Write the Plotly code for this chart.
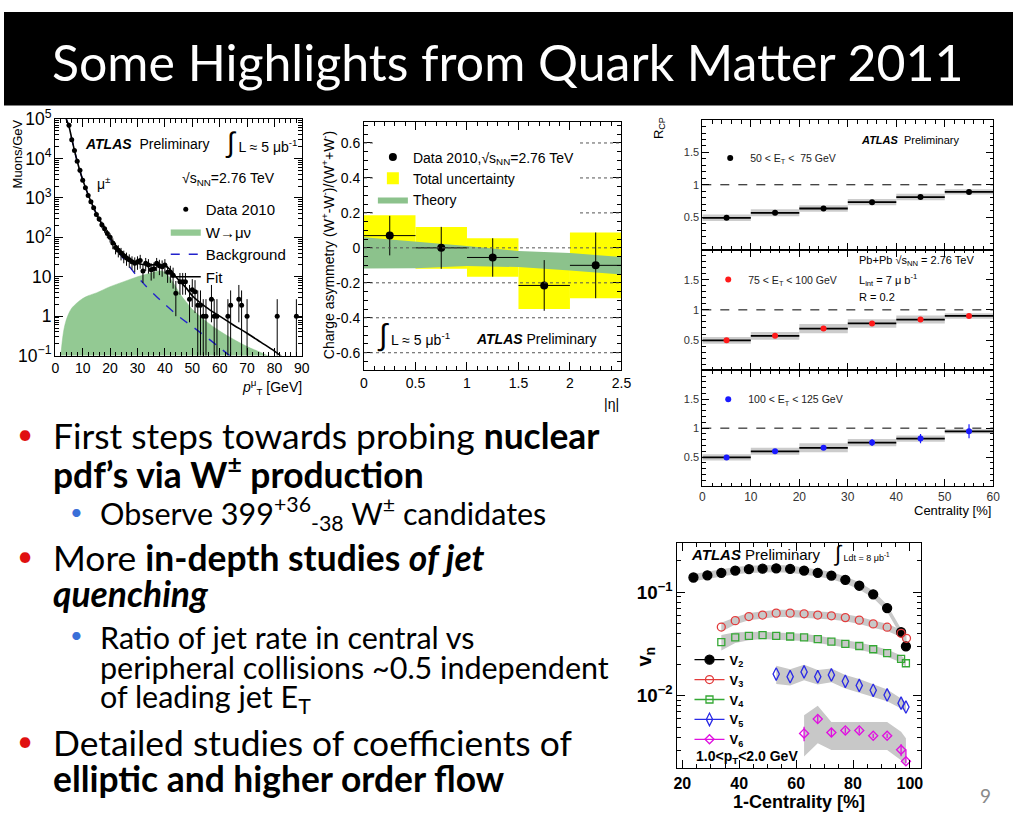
import plotly.graph_objects as go

W_PX, H_PX = 1023, 828


def X(px):
    return px / W_PX


def Y(py):
    return 1 - py / H_PX


ROOT = "Liberation Sans"
SLIDE = "Lato"

# ---------------- Panel A: muon pT spectrum ----------------
mu_pt = [5, 6, 7, 8, 9, 10, 11, 12, 13, 14, 15, 16, 17, 18, 19, 20, 21, 22, 23, 24, 25, 26, 27, 28, 29, 30,
         31, 32, 33, 34, 35, 36, 37, 38, 39, 40, 41, 42, 43,
         44, 45.5, 46.5, 47.5, 49, 50, 51, 52, 53, 54, 55, 57, 58, 59, 63, 64, 67, 68, 70, 81, 88]
mu_val = [70000, 30000, 16000, 8500, 5000, 2800, 1800, 1150, 800, 560, 380, 290, 210, 165, 125, 100, 72, 55, 47,
          40, 34, 30, 27, 24, 22, 24,
          26, 14, 22, 20, 15, 16, 22, 19, 18, 20, 13, 13, 11,
          3.8, 7.5, 7.5, 7.5, 2.7, 4.7, 4.2, 1.9, 1.9, 1, 1, 2.7, 1, 1, 1, 1.9, 2.7, 1.9, 1, 1, 1]
mu_err_common = [2000, 1000, 600, 400, 280, 200, 150, 110, 90, 70, 55, 45, 40, 35, 30, 26, 22, 18, 16, 14, 12,
                 11, 10, 9, 9, 9,
                 10, 7, 8, 8, 7, 7, 8, 8, 8, 8, 6, 6, 6]
mu_err_hi_tail = [4, 5, 5, 5, 3.5, 4, 4, 2.6, 2.6, 1.7, 1.7, 3.5, 1.7, 1.7, 1.7, 2.6, 3.5, 2.6, 1.7, 1.7, 1.7]
mu_err_lo_tail = [2.8, 4, 4, 4, 2.0, 3, 3, 1.85, 1.85, 0.95, 0.95, 2.0, 0.95, 0.95, 0.95, 1.85, 2.0, 1.85,
                  0.95, 0.95, 0.95]
mu_err_hi = mu_err_common + mu_err_hi_tail
mu_err_lo = mu_err_common + mu_err_lo_tail

fit_pt = [4, 5, 6, 7, 8, 9, 10, 12, 14, 16, 18, 20, 22, 25, 28, 30, 32, 35, 38, 40, 42, 44, 46, 48, 50, 55, 60,
          65, 70, 75, 80, 83]
fit_val = [1e5, 6.5e4, 3.2e4, 1.6e4, 8.5e3, 4.8e3, 2.9e3, 1.2e3, 560, 290, 165, 98, 63, 38, 26, 22, 20.5, 20, 20,
           19, 15, 10, 7, 5, 3.3, 1.7, 1.0, 0.6, 0.37, 0.22, 0.13, 0.09]

bkg_pt = [4, 5, 6, 7, 8, 9, 10, 12, 14, 16, 18, 20, 22, 25, 28, 30, 32, 35, 38, 40, 45, 50, 55, 60, 64]
bkg_val = [1e5, 6.5e4, 3.2e4, 1.6e4, 8.5e3, 4.8e3, 2.9e3, 1.2e3, 560, 290, 160, 92, 55, 28, 15, 10, 7, 4.2, 2.7,
           2.0, 1.0, 0.55, 0.3, 0.16, 0.095]

w_pt = [1.5, 2, 3, 4, 5, 6, 8, 10, 12, 15, 20, 25, 30, 35, 38, 40, 42, 44, 46, 48, 50, 55, 60, 65, 70, 75, 78, 80]
w_val = [0.05, 0.1, 0.4, 0.8, 1.2, 1.6, 2.2, 2.8, 3.3, 3.9, 5.6, 7.5, 10, 12.5, 14, 13, 9, 5.5, 3.3, 2.2, 1.5,
         0.75, 0.42, 0.26, 0.17, 0.12, 0.095, 0.08]

# ---------------- Panel B: charge asymmetry ----------------
eta_edges = [0, 0.5, 1.0, 1.5, 2.0, 2.5]
asym = [0.07, 0.0, -0.055, -0.215, -0.10]
asym_stat = [0.113, 0.12, 0.11, 0.145, 0.188]
asym_tot = [0.117, 0.12, 0.11, 0.135, 0.188]
theory_eta = [0, 0.5, 1.0, 1.5, 2.0, 2.5]
theory_hi = [0.06, 0.037, 0.01, -0.018, -0.03, -0.052]
theory_lo = [-0.118, -0.117, -0.104, -0.11, -0.13, -0.153]
asym_grid = [-0.6, -0.4, -0.2, 0, 0.2, 0.4, 0.6]
asym_ticktext = ["-0.6", "-0.4", "-0.2", "0", "0.2", "0.4", "0.6"]

# ---------------- Panel C: jet R_CP ----------------
cent_edges = [0, 10, 20, 30, 40, 50, 60]
rcp1 = [0.49, 0.567, 0.634, 0.732, 0.81, 0.89]
rcp1_sys = [0.05, 0.055, 0.05, 0.05, 0.05, 0.04]
rcp1_stat = [0.008, 0.008, 0.01, 0.01, 0.012, 0.015]
rcp2 = [0.495, 0.57, 0.69, 0.775, 0.84, 0.90]
rcp2_sys = [0.056, 0.064, 0.077, 0.07, 0.066, 0.046]
rcp2_stat = [0.015, 0.015, 0.02, 0.025, 0.03, 0.035]
rcp3 = [0.495, 0.60, 0.66, 0.75, 0.82, 0.945]
rcp3_sys = [0.055, 0.06, 0.078, 0.064, 0.055, 0.036]
rcp3_stat = [0.02, 0.03, 0.035, 0.06, 0.08, 0.12]
rcp_labels = ["50 &lt; E<sub>T</sub> &lt;  75 GeV", "75 &lt; E<sub>T</sub> &lt; 100 GeV",
              "100 &lt; E<sub>T</sub> &lt; 125 GeV"]

# ---------------- Panel D: flow harmonics v_n ----------------
v2_x = [23.9, 28.8, 33.7, 38.6, 43.4, 48.2, 53.0, 57.9, 62.8, 67.6, 72.4, 77.3, 82.2, 87.1, 92.0, 96.9, 98.6]
v2 = [0.138, 0.145, 0.153, 0.161, 0.166, 0.168, 0.169, 0.167, 0.161, 0.153, 0.144, 0.131, 0.115, 0.095, 0.070,
      0.041, 0.030]
v2_sys = [0.08] * 17
v3_x = [33.7, 38.6, 43.4, 48.2, 53.0, 57.9, 62.8, 67.6, 72.4, 77.3, 82.2, 87.1, 92.0, 96.9, 98.8]
v3 = [0.046, 0.053, 0.058, 0.060, 0.0626, 0.0626, 0.0617, 0.060, 0.059, 0.0567, 0.0536, 0.0493, 0.0458, 0.040,
      0.0358]
v3_sys = [0.1, 0.08, 0.08, 0.08, 0.08, 0.08, 0.08, 0.08, 0.08, 0.08, 0.08, 0.08, 0.08, 0.08, 0.08]
v4_x = [33.7, 38.6, 43.4, 48.2, 53.0, 57.9, 62.8, 67.6, 72.4, 77.3, 82.2, 87.1, 92.0, 96.9, 98.6]
v4 = [0.0329, 0.0366, 0.0378, 0.0384, 0.0378, 0.0373, 0.0366, 0.0351, 0.0333, 0.0317, 0.0302, 0.0281, 0.0258,
      0.0227, 0.0206]
v4_sys = [0.17, 0.12, 0.09, 0.08, 0.08, 0.08, 0.08, 0.08, 0.08, 0.08, 0.08, 0.08, 0.08, 0.08, 0.08]
v5_x = [53.0, 57.9, 62.8, 67.6, 72.4, 77.3, 82.2, 87.1, 92.0, 96.9, 98.6]
v5 = [0.0162, 0.0153, 0.0170, 0.0153, 0.0159, 0.0138, 0.0126, 0.0113, 0.0102, 0.0085, 0.0078]
v5_sys = [0.2, 0.18, 0.17, 0.16, 0.15, 0.15, 0.15, 0.14, 0.13, 0.11, 0.1]
v6_x = [62.8, 67.6, 72.4, 77.3, 82.2, 87.1, 92.0, 96.9, 98.6]
v6 = [0.00434, 0.00597, 0.00443, 0.00464, 0.00464, 0.00412, 0.00412, 0.00302, 0.00234]
v6_err = [0.0007, 0.0005, 0.0004, 0.0003, 0.0003, 0.0002, 0.0002, 0.0004, 0.0007]
v6_err_lo = [0.0007, 0.0005, 0.0004, 0.0003, 0.0003, 0.0002, 0.0002, 0.0004, 0.0001]
v6_band_hi = [0.0065, 0.0080, 0.0056, 0.0056, 0.0056, 0.0056, 0.0056, 0.0045, 0.0039]
v6_band_lo = [0.0026, 0.0035, 0.0030, 0.0030, 0.0030, 0.0030, 0.0030, 0.0024, 0.0021]

# ---------------- slide text ----------------
title_text = "Some Highlights from Quark Matter 2011"
bullets = [
    ("main", 435, "First steps towards probing <b>nuclear</b>", True),
    ("main", 473, "<b>pdf’s via W<sup>±</sup> production</b>", False),
    ("sub", 515, "Observe 399<sup>+36</sup><sub>-38</sub> W<sup>±</sup> candidates", True),
    ("main", 560, "More <b>in-depth studies <i>of jet</i></b>", True),
    ("main", 597, "<b><i>quenching</i></b>", False),
    ("sub", 642, "Ratio of jet rate in central vs", True),
    ("sub", 673, "peripheral collisions ~0.5 independent", False),
    ("sub", 705, "of leading jet E<sub>T</sub>", False),
    ("main", 750, "Detailed studies of coefficients of", True),
    ("main", 787, "<b>elliptic and higher order flow</b>", False),
]

fig = go.Figure()

# ---- Panel A traces
fig.add_trace(go.Scatter(x=w_pt, y=w_val, mode="lines", line=dict(width=0.5, color="#8cc58c", shape="spline"),
                         fill="tozeroy", fillcolor="#93c993", name="W→μν", legendrank=2,
                         xaxis="x", yaxis="y", legend="legend"))
fig.add_trace(go.Scatter(x=bkg_pt, y=bkg_val, mode="lines",
                         line=dict(color="#2222cc", width=1.4, dash="dash", shape="spline"),
                         name="Background", legendrank=3, xaxis="x", yaxis="y", legend="legend"))
fig.add_trace(go.Scatter(x=fit_pt, y=fit_val, mode="lines", line=dict(color="black", width=1.6, shape="spline"),
                         name="Fit", legendrank=4, xaxis="x", yaxis="y", legend="legend"))
fig.add_trace(go.Scatter(x=mu_pt, y=mu_val, mode="markers", marker=dict(color="black", size=5),
                         error_y=dict(type="data", array=mu_err_hi, arrayminus=mu_err_lo, color="black",
                                      thickness=1, width=0),
                         name="Data 2010", legendrank=1, xaxis="x", yaxis="y", legend="legend"))

# ---- Panel B traces
eta_c = [(a + b) / 2 for a, b in zip(eta_edges[:-1], eta_edges[1:])]
eta_hw = [(b - a) / 2 for a, b in zip(eta_edges[:-1], eta_edges[1:])]
fig.add_trace(go.Bar(x=eta_c, y=[2 * e for e in asym_tot], base=[v - e for v, e in zip(asym, asym_tot)],
                     width=[2 * h for h in eta_hw], marker=dict(color="#ffff00", line=dict(width=0)),
                     name="Total uncertainty", legendrank=2, xaxis="x2", yaxis="y2", legend="legend2"))
fig.add_trace(go.Scatter(x=theory_eta, y=theory_lo, mode="lines", line=dict(width=0, color="#8cc28c"),
                         showlegend=False, xaxis="x2", yaxis="y2"))
fig.add_trace(go.Scatter(x=theory_eta, y=theory_hi, mode="lines", line=dict(width=0, color="#8cc28c"),
                         fill="tonexty", fillcolor="#8cc28c", name="Theory", legendrank=3,
                         xaxis="x2", yaxis="y2", legend="legend2"))
fig.add_trace(go.Scatter(x=eta_c, y=asym, mode="markers", marker=dict(color="black", size=8),
                         error_x=dict(type="data", array=eta_hw, color="black", thickness=1, width=0),
                         error_y=dict(type="data", array=asym_stat, color="black", thickness=1, width=0),
                         name="Data 2010,√s<sub>NN</sub>=2.76 TeV", legendrank=1,
                         xaxis="x2", yaxis="y2", legend="legend2"))

# ---- Panel C traces
cent_c = [(a + b) / 2 for a, b in zip(cent_edges[:-1], cent_edges[1:])]
cent_hw = [(b - a) / 2 for a, b in zip(cent_edges[:-1], cent_edges[1:])]
rcp_sets = [(rcp1, rcp1_sys, rcp1_stat, "black", "x3", "y3", "legend3"),
            (rcp2, rcp2_sys, rcp2_stat, "#ff1a1a", "x4", "y4", "legend4"),
            (rcp3, rcp3_sys, rcp3_stat, "#1a1aff", "x5", "y5", "legend5")]
for (vals, sys_, stat, col, xa, ya, lg), lab in zip(rcp_sets, rcp_labels):
    fig.add_trace(go.Bar(x=cent_c, y=[2 * s for s in sys_], base=[v - s for v, s in zip(vals, sys_)],
                         width=[2 * h for h in cent_hw], marker=dict(color="#cccccc", line=dict(width=0)),
                         showlegend=False, xaxis=xa, yaxis=ya))
    fig.add_trace(go.Scatter(x=cent_c, y=vals, mode="markers", marker=dict(color=col, size=6),
                             error_x=dict(type="data", array=cent_hw, color="black", thickness=1.8, width=0),
                             error_y=dict(type="data", array=stat, color=col, thickness=1.2, width=0),
                             name=lab, xaxis=xa, yaxis=ya, legend=lg))

# ---- Panel D traces
GRAY = "#c8c8c8"


def band(xs, lo, hi):
    fig.add_trace(go.Scatter(x=xs, y=lo, mode="lines", line=dict(width=0, color=GRAY), showlegend=False,
                             xaxis="x6", yaxis="y6"))
    fig.add_trace(go.Scatter(x=xs, y=hi, mode="lines", line=dict(width=0, color=GRAY), fill="tonexty",
                             fillcolor=GRAY, showlegend=False, xaxis="x6", yaxis="y6"))


for xs, vs, ss in [(v2_x, v2, v2_sys), (v3_x, v3, v3_sys), (v4_x, v4, v4_sys), (v5_x, v5, v5_sys)]:
    band(xs, [v * (1 - s) for v, s in zip(vs, ss)], [v * (1 + s) for v, s in zip(vs, ss)])
band(v6_x, v6_band_lo, v6_band_hi)

vn_styles = [
    ("V<sub>2</sub>", v2_x, v2, "black", "circle", 9, None, None),
    ("V<sub>3</sub>", v3_x, v3, "#e23c3c", "circle-open", 8, None, None),
    ("V<sub>4</sub>", v4_x, v4, "#34a834", "square-open", 7, None, None),
    ("V<sub>5</sub>", v5_x, v5, "#2a2ae6", "diamond-tall-open", 9, None, None),
    ("V<sub>6</sub>", v6_x, v6, "#e010e0", "diamond-open", 7, v6_err, v6_err_lo),
]
for i, (nm, xs, vs, col, sym, sz, eh, el) in enumerate(vn_styles):
    ey = None
    if eh is not None:
        ey = dict(type="data", array=eh, arrayminus=el, color=col, thickness=1.3, width=0)
    fig.add_trace(go.Scatter(x=xs, y=vs, mode="markers",
                             marker=dict(symbol=sym, size=sz, color=col, line=dict(color=col, width=1.3)),
                             error_y=ey, showlegend=False, xaxis="x6", yaxis="y6"))
    # legend entry (ROOT style line + marker)
    fig.add_trace(go.Scatter(x=[None], y=[None], mode="lines+markers",
                             marker=dict(symbol=sym, size=sz, color=col, line=dict(color=col, width=1.3)),
                             line=dict(color=col, width=1.3), name="<b>" + nm + "</b>", legendrank=i + 1,
                             xaxis="x6", yaxis="y6", legend="legend6"))


# ---------------- axes ----------------
def axis(domain, rng, size=14, ticklen=8, minor=None, **kw):
    d = dict(domain=domain, range=rng, showline=True, linecolor="black", linewidth=1, mirror="allticks",
             ticks="inside", ticklen=ticklen, tickcolor="black", showgrid=False, zeroline=False,
             tickfont=dict(family=ROOT, size=size, color="black"), fixedrange=True)
    if minor is not None:
        d["minor"] = dict(ticks="inside", ticklen=ticklen / 2, tickcolor="black", showgrid=False, dtick=minor)
    d.update(kw)
    return d


layout_axes = dict(
    xaxis=axis([X(52), X(302)], [0, 90], dtick=10, minor=2, anchor="y"),
    yaxis=axis([Y(353), Y(110)], [-1, 5], type="log", dtick=1, exponentformat="power", minor="D1",
               anchor="x"),
    xaxis2=axis([X(365), X(626)], [0, 2.5], dtick=0.5, minor=0.1, anchor="y2"),
    yaxis2=axis([Y(368), Y(113)], [-0.7, 0.72], tickmode="array", tickvals=asym_grid, ticktext=asym_ticktext,
                minor=0.05, anchor="x2"),
    xaxis3=axis([X(708), X(1003)], [0, 60], size=11, ticklen=7, dtick=10, minor=2, showticklabels=False,
                anchor="y3"),
    yaxis3=axis([Y(244), Y(111)], [0, 2], size=11, ticklen=7, tickvals=[0.5, 1, 1.5], minor=0.1,
                tickfont=dict(family=ROOT, size=11, color="#333"), anchor="x3"),
    xaxis4=axis([X(708), X(1003)], [0, 60], size=11, ticklen=7, dtick=10, minor=2, showticklabels=False,
                anchor="y4"),
    yaxis4=axis([Y(368), Y(244)], [0, 2], size=11, ticklen=7, tickvals=[0.5, 1, 1.5], minor=0.1,
                tickfont=dict(family=ROOT, size=11, color="#333"), anchor="x4"),
    xaxis5=axis([X(708), X(1003)], [0, 60], size=12, ticklen=7, dtick=10, minor=2,
                tickfont=dict(family=ROOT, size=12, color="#333"), anchor="y5"),
    yaxis5=axis([Y(487), Y(368)], [0, 2], size=11, ticklen=7, tickvals=[0.5, 1, 1.5], minor=0.1,
                tickfont=dict(family=ROOT, size=11, color="#333"), anchor="x5"),
    xaxis6=axis([X(682), X(930)], [18, 104], dtick=20, tick0=0, minor=5,
                tickfont=dict(family=ROOT, size=16, color="black", weight="bold"), anchor="y6"),
    yaxis6=axis([Y(777), Y(545)], [-2.699, -0.523], type="log", dtick=1, exponentformat="power", minor="D1",
                tickfont=dict(family=ROOT, size=15, color="black", weight="bold"), anchor="x6"),
)

# ---------------- shapes ----------------
shapes = [dict(type="rect", xref="paper", yref="paper", x0=0, x1=1, y0=Y(96), y1=1,
               fillcolor="black", line=dict(width=0), layer="below")]
for g in asym_grid:
    shapes.append(dict(type="line", xref="x2 domain", yref="y2", x0=0, x1=1, y0=g, y1=g,
                       line=dict(color="#555", width=1, dash="dot"), layer="above"))
for ya in ["y3", "y4", "y5"]:
    shapes.append(dict(type="line", xref=ya.replace("y", "x") + " domain", yref=ya, x0=0, x1=1, y0=1, y1=1,
                       line=dict(color="black", width=1, dash="dash"), layer="above"))


# ---------------- annotations ----------------
def txt(x, y, text, size=14, family=ROOT, color="black", xanchor="left", yanchor="middle", angle=0, **kw):
    return dict(x=x, y=y, xref="paper", yref="paper", text=text, showarrow=False, xanchor=xanchor,
                yanchor=yanchor, textangle=angle, font=dict(family=family, size=size, color=color, **kw))


ann = [txt(X(47), Y(51), title_text, size=50, family=SLIDE, color="white")]

# panel A
ann += [
    txt(X(14), Y(108), "Muons/GeV", size=13, xanchor="center", yanchor="top", angle=-90),
    txt(X(304), Y(385), "<i>p</i><sup>μ</sup><sub>T</sub> [GeV]", size=14, xanchor="right"),
    txt(X(80), Y(136), "<b><i>ATLAS</i></b>  Preliminary", size=14),
    txt(X(222), Y(134), "<span style='font-size:28px'>∫</span> L ≈ 5 μb<sup>-1</sup>", size=14),
    txt(X(92), Y(176), "μ<sup>±</sup>", size=14),
    txt(X(178), Y(172), "√s<sub>NN</sub>=2.76 TeV", size=14),
]
# panel B
ann += [
    txt(X(328), Y(240), "Charge asymmetry (W<sup>+</sup>-W<sup>-</sup>)/(W<sup>+</sup>+W<sup>-</sup>)",
        size=14, xanchor="center", angle=-90),
    txt(X(626), Y(403), "|η|", size=14, xanchor="right"),
    txt(X(376), Y(332), "<span style='font-size:30px'>∫</span> L ≈ 5 μb<sup>-1</sup>", size=14),
    txt(X(477), Y(336), "<b><i>ATLAS</i></b> Preliminary", size=14),
]
# panel C
ann += [
    txt(X(664), Y(106), "R<sub>CP</sub>", size=13, xanchor="center", yanchor="top", angle=-90),
    txt(X(1003), Y(512), "Centrality [%]", size=13, xanchor="right"),
    txt(X(867), Y(131), "<b><i>ATLAS</i></b>  Preliminary", size=11),
    txt(X(865), Y(256), "Pb+Pb √s<sub>NN</sub> = 2.76 TeV", size=11),
    txt(X(865), Y(275), "L<sub>int</sub> = 7 μ b<sup>-1</sup>", size=11),
    txt(X(865), Y(293), "R = 0.2", size=11),
]
# panel D
ann += [
    txt(X(650), Y(662), "<b>v<sub>n</sub></b>", size=20, xanchor="center", angle=-90),
    txt(X(806), Y(812), "<b>1-Centrality [%]</b>", size=18, xanchor="center"),
    txt(X(694), Y(557), "<b><i>ATLAS</i></b> Preliminary", size=15),
    txt(X(838), Y(556), "<span style='font-size:22px'>∫</span> Ldt = 8 μb<sup>-1</sup>", size=9),
    txt(X(700), Y(765), "<b>1.0&lt;p<sub>T</sub>&lt;2.0 GeV</b>", size=14),
]
# slide bullets
for kind, yy, text, has_bullet in bullets:
    if kind == "main":
        ann.append(txt(X(48), Y(yy), text, size=35.4, family=SLIDE))
        if has_bullet:
            ann.append(txt(X(11), Y(yy - 2), "•", size=28, family=SLIDE, color="#e01010"))
    else:
        ann.append(txt(X(95), Y(yy), text, size=30.5, family=SLIDE))
        if has_bullet:
            ann.append(txt(X(65), Y(yy - 2), "•", size=22, family=SLIDE, color="#3a6fd8"))
ann.append(txt(X(995), Y(805), "9", size=19, family=SLIDE, color="#8a8a8a", xanchor="center"))

leg_common = dict(xanchor="left", yanchor="top", bgcolor="rgba(0,0,0,0)", itemwidth=30, traceorder="normal",
                  itemclick=False, itemdoubleclick=False)
fig.update_layout(
    width=W_PX, height=H_PX, margin=dict(l=0, r=0, t=0, b=0, pad=0), autosize=False,
    paper_bgcolor="white", plot_bgcolor="white", barmode="overlay", hovermode=False,
    showlegend=True,
    legend=dict(x=X(164), y=Y(186), font=dict(family=ROOT, size=15, color="black"), **leg_common),
    legend2=dict(x=X(374), y=Y(133), font=dict(family=ROOT, size=14, color="black"),
                 **{**leg_common, "bgcolor": "white"}),
    legend3=dict(x=X(716), y=Y(135), font=dict(family=ROOT, size=10.5, color="#222"), **leg_common),
    legend4=dict(x=X(714), y=Y(260), font=dict(family=ROOT, size=10.5, color="#222"), **leg_common),
    legend5=dict(x=X(714), y=Y(383), font=dict(family=ROOT, size=10.5, color="#222"), **leg_common),
    legend6=dict(x=X(695), y=Y(650), font=dict(family=ROOT, size=13, color="black"), **leg_common),
    shapes=shapes, annotations=ann, **layout_axes,
)

fig.write_html(
    "out.html",
    config={"displayModeBar": False},
    post_script=("document.documentElement.style.margin='0';document.body.style.margin='0';"
                 "document.body.style.padding='0';document.body.style.overflow='hidden';"
                 "document.documentElement.style.overflow='hidden';"
                 "var gd=document.getElementById('{plot_id}');gd.style.position='fixed';"
                 "gd.style.left='0px';gd.style.top='0px';"),
)
